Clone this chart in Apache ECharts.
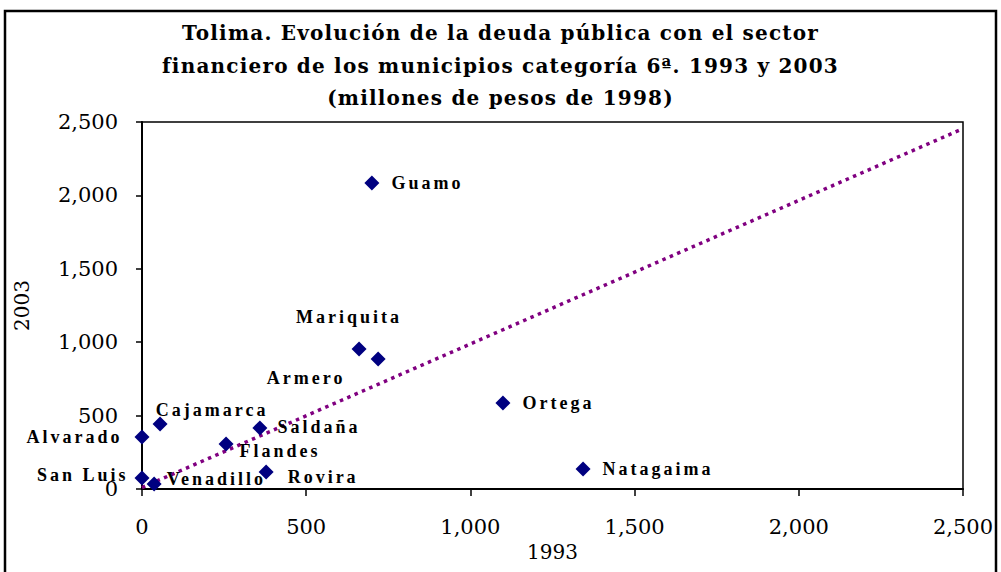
<!DOCTYPE html>
<html>
<head>
<meta charset="utf-8">
<script src="https://cdn.jsdelivr.net/npm/echarts@6/dist/echarts.min.js"></script>
<style>
  html, body { margin: 0; padding: 0; background: #fff; }
  #chart { width: 1001px; height: 572px; }
  /* data labels: spaced bold serif as in the reference */
  text[style*="Liberation Serif"] { letter-spacing: 3px; }
  /* title: slightly spaced */
  text[style*="Noto Serif"] { letter-spacing: 1.2px; }
</style>
</head>
<body>
<div id="chart"></div>
<script>
// ---- data ----
const names = ['Guamo', 'Mariquita', 'Armero', 'Ortega', 'Natagaima', 'Cajamarca',
               'Alvarado', 'Saldaña', 'Flandes', 'Rovira', 'San Luis', 'Venadillo'];
const x1993 = [700, 661, 719, 1099, 1343, 55, 0, 359, 256, 378, 0, 37];
const y2003 = [2084, 954, 886, 586, 136, 443, 354, 416, 307, 116, 75, 34];
const trendX = [0, 2500];
const trendY = [10, 2455];
const axisTicks = [0, 500, 1000, 1500, 2000, 2500];

// ---- label placement (style only) ----
const labelLayout = {
  'Guamo':     { position: 'right', distance: 12, offset: [0, 0] },
  'Mariquita': { position: 'inside', offset: [-10, -32] },
  'Armero':    { position: 'inside', offset: [-72, 19] },
  'Ortega':    { position: 'right', distance: 12, offset: [0, 0] },
  'Natagaima': { position: 'right', distance: 12, offset: [0, 0] },
  'Cajamarca': { position: 'inside', offset: [52, -14] },
  'Alvarado':  { position: 'left', distance: 12, offset: [0, 0] },
  'Saldaña':   { position: 'right', distance: 10, offset: [0, -1] },
  'Flandes':   { position: 'inside', offset: [54, 7] },
  'Rovira':    { position: 'right', distance: 14, offset: [0, 5] },
  'San Luis':  { position: 'left', distance: 6, offset: [0, -3] },
  'Venadillo': { position: 'right', distance: 5, offset: [0, -5] }
};

const scatterData = names.map((n, i) => ({
  name: n,
  value: [x1993[i], y2003[i]],
  label: Object.assign({ show: true, formatter: n }, labelLayout[n])
}));
const trendData = trendX.map((x, i) => [x, trendY[i]]);

const numFmt = v => Number(v).toLocaleString('en-US');
const tickFont = { fontFamily: 'DejaVu Serif', fontSize: 21, color: '#000' };

const chart = echarts.init(document.getElementById('chart'), null, { renderer: 'svg' });
chart.setOption({
  animation: false,
  backgroundColor: '#fff',
  title: {
    text: 'Tolima. Evolución de la deuda pública con el sector\nfinanciero de los municipios categoría 6ª. 1993 y 2003\n(millones de pesos de 1998)',
    left: 'center',
    top: 12,
    textStyle: { fontFamily: 'DejaVu Serif, Noto Serif', fontWeight: 'bold', fontSize: 20, lineHeight: 32.5, color: '#000' }
  },
  graphic: [{
    type: 'rect',
    shape: { x: 5, y: 11, width: 991, height: 600 },
    style: { fill: 'none', stroke: '#000', lineWidth: 2.5 },
    silent: true, z: -1
  }],
  grid: { left: 142, right: 38, top: 122, bottom: 83, show: true, borderColor: '#000', borderWidth: 1.5,
          containLabel: false, outerBoundsMode: 'none' },
  xAxis: {
    type: 'value', min: axisTicks[0], max: axisTicks[axisTicks.length - 1], interval: 500,
    name: '1993', nameLocation: 'middle', nameGap: 52,
    nameTextStyle: { fontFamily: 'DejaVu Serif', fontSize: 20, color: '#000' },
    axisLine: { show: true, lineStyle: { color: '#000', width: 2 } },
    axisTick: { show: true, inside: false, length: 7, lineStyle: { color: '#000', width: 1.5 } },
    axisLabel: Object.assign({ margin: 27, formatter: numFmt }, tickFont),
    splitLine: { show: false }
  },
  yAxis: {
    type: 'value', min: axisTicks[0], max: axisTicks[axisTicks.length - 1], interval: 500,
    name: '2003', nameLocation: 'middle', nameGap: 110, nameRotate: 90,
    nameTextStyle: { fontFamily: 'DejaVu Serif', fontSize: 20, color: '#000' },
    axisLine: { show: true, lineStyle: { color: '#000', width: 2 } },
    axisTick: { show: true, inside: false, length: 6, lineStyle: { color: '#000', width: 1.5 } },
    axisLabel: Object.assign({ margin: 24, formatter: numFmt }, tickFont),
    splitLine: { show: false }
  },
  series: [
    {
      type: 'line',
      data: trendData,
      symbol: 'none',
      lineStyle: { color: '#800080', width: 3.5, type: [3.5, 4.5], cap: 'butt' },
      z: 1,
      silent: true
    },
    {
      type: 'scatter',
      data: scatterData,
      symbol: 'diamond',
      symbolSize: 15,
      itemStyle: { color: '#000080', opacity: 1 },
      label: {
        show: true,
        fontFamily: 'Liberation Serif',
        fontWeight: 'bold',
        fontSize: 18,
        color: '#000'
      },
      z: 3
    }
  ]
});
</script>
</body>
</html>
